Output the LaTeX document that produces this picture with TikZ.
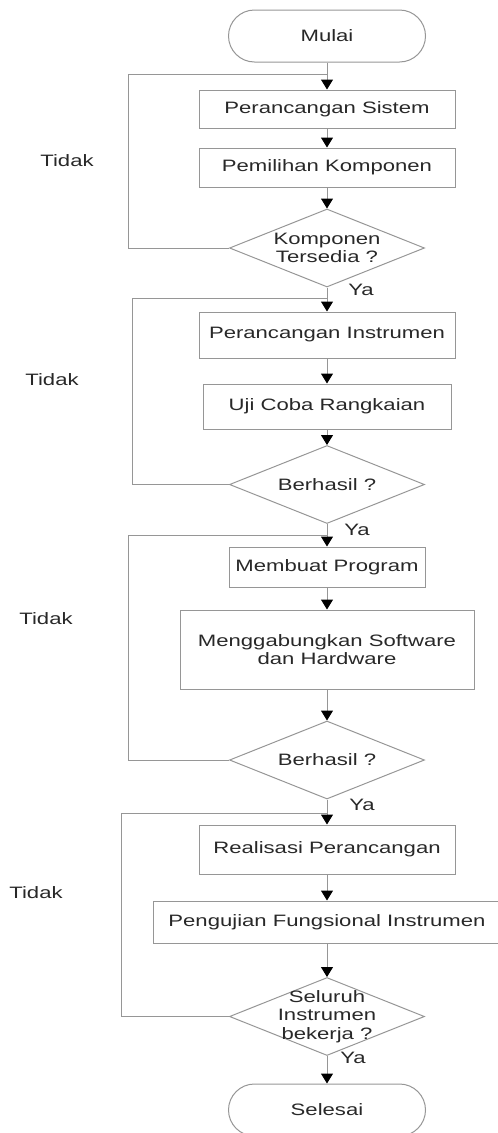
\documentclass[tikz,border=0pt]{standalone}
\usepackage{fontspec}
\setmainfont[FakeStretch=1.34]{Liberation Sans}
\usetikzlibrary{positioning,shapes.geometric,arrows.meta}
\definecolor{linegray}{RGB}{150,150,150}
\definecolor{textgray}{RGB}{40,40,40}
\tikzset{
  process/.style 2 args={draw=linegray, line width=1pt, minimum width=#1, minimum height=#2, inner sep=0pt},
  terminal/.style={draw=linegray, line width=1pt, rounded corners=26pt, minimum width=197pt, minimum height=52pt, inner sep=0pt},
  decision/.style={diamond, draw=linegray, line width=1pt, minimum width=195pt, minimum height=78pt, inner sep=0pt},
  flowline/.style={draw=linegray, line width=1pt},
  arrowline/.style={flowline, -{Triangle[width=12pt,length=10pt,color=black]}}
}
\begin{document}
\begin{tikzpicture}[x=1pt, y=-1pt,
    every node/.style={font=\fontsize{16.5}{18.5}\selectfont, text=textgray}]
  \useasboundingbox (0,0) rectangle (498,1133);

  % blok utama
  \node[terminal] (mulai) at (327,36) {Mulai};
  \node[process={256pt}{38pt}] (sistem) at (327,109) {Perancangan Sistem};
  \node[process={256pt}{39pt}] (pilih) at (327,167.5) {Pemilihan Komponen};
  \node[decision, label={[align=center]center:Komponen\\Tersedia ?}] (d1) at (327,248) {};
  \node[process={256pt}{46pt}] (instrumen) at (327,335) {Perancangan Instrumen};
  \node[process={248pt}{45pt}] (ujicoba) at (327,406.5) {Uji Coba Rangkaian};
  \node[decision, label={center:Berhasil ?}] (d2) at (327,484.5) {};
  \node[process={196pt}{40pt}] (program) at (327,567) {Membuat Program};
  \node[process={294pt}{79pt}, align=center] (gabung) at (327,649.5) {Menggabungkan Software\\dan Hardware};
  \node[decision, label={center:Berhasil ?}] (d3) at (327,760) {};
  \node[process={256pt}{49pt}] (realisasi) at (327,849.5) {Realisasi Perancangan};
  \node[process={348pt}{42pt}] (fungsi) at (327,922) {Pengujian Fungsional Instrumen};
  \node[decision, label={[align=center]center:Seluruh\\Instrumen\\bekerja ?}] (d4) at (327,1016.5) {};
  \node[terminal] (selesai) at (327,1110) {Selesai};

  % label
  \node (ya1) at (361,290) {Ya};
  \node (ya2) at (357,530) {Ya};
  \node (ya3) at (362,805) {Ya};
  \node (ya4) at (353,1058) {Ya};
  \foreach \tx/\ty [count=\i] in {67/161, 52/380, 46/619, 36/893}
    \node (tidak\i) at (\tx,\ty) {Tidak};

  % alur
  \draw[arrowline] (mulai.south) -- (sistem.north);
  \draw[arrowline] (sistem.south) -- (pilih.north);
  \draw[arrowline] (pilih.south) -- (d1.north);
  \draw[arrowline] (d1.south) -- (instrumen.north);
  \draw[arrowline] (instrumen.south) -- (ujicoba.north);
  \draw[arrowline] (ujicoba.south) -- (d2.north);
  \draw[arrowline] (d2.south) -- (program.north);
  \draw[arrowline] (program.south) -- (gabung.north);
  \draw[arrowline] (gabung.south) -- (d3.north);
  \draw[arrowline] (d3.south) -- (realisasi.north);
  \draw[arrowline] (realisasi.south) -- (fungsi.north);
  \draw[arrowline] (fungsi.south) -- (d4.north);
  \draw[arrowline] (d4.south) -- (selesai.north);

  % umpan balik (Tidak)
  \foreach \i/\lx/\ty in {1/128/74, 2/132/298, 3/128/535, 4/121/813} {
    \coordinate (c\i) at (\lx,\ty);
    \coordinate (j\i) at (327,\ty);
    \draw[flowline] (d\i.west) -| (c\i) -- (j\i);
  }
\end{tikzpicture}
\end{document}
